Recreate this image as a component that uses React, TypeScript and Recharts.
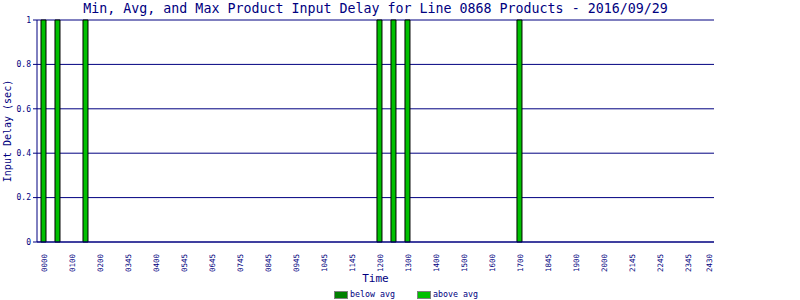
import { Bar, BarChart, CartesianGrid, XAxis, YAxis } from "recharts";

const tickLabels = [
  "0000", "0100", "0200", "0345", "0400", "0545", "0645", "0745", "0845", "0945", "1045", "1145",
  "1200", "1300", "1400", "1500", "1600", "1700", "1845", "1900", "2000", "2145", "2245", "2345", "2430",
];
// slot index of each tick label (half-hour slots, the last label sits at the end of the range)
const tickSlots = [
  0, 2, 4, 6, 8, 10, 12, 14, 16, 18, 20, 22, 24, 26, 28, 30, 32, 34, 36, 38, 40, 42, 44, 46, 47.5,
];

const belowAvg = [
  0, 0, 0, 0, 0, 0, 0, 0, 0, 0, 0, 0, 0, 0, 0, 0, 0, 0, 0, 0, 0, 0, 0, 0,
  0, 0, 0, 0, 0, 0, 0, 0, 0, 0, 0, 0, 0, 0, 0, 0, 0, 0, 0, 0, 0, 0, 0, 0,
];
const aboveAvg = [
  1, 1, 0, 1, 0, 0, 0, 0, 0, 0, 0, 0, 0, 0, 0, 0, 0, 0, 0, 0, 0, 0, 0, 0,
  1, 1, 1, 0, 0, 0, 0, 0, 0, 0, 1, 0, 0, 0, 0, 0, 0, 0, 0, 0, 0, 0, 0, 0,
];

const yTicks = [0, 0.2, 0.4, 0.6, 0.8, 1];

const data = aboveAvg.map((above, i) => ({ slot: i, below: belowAvg[i], above }));

const NAVY = "#000080";
const FONT = "'DejaVu Sans Mono', monospace";

function XTick(props: any) {
  const { x, y, payload } = props;
  const label = tickLabels[tickSlots.indexOf(payload.value)];
  return (
    <text
      x={x}
      y={y}
      transform={`rotate(-90, ${x}, ${y})`}
      textAnchor="end"
      dx={-4}
      dy={3}
      fontSize={7.5}
      fontFamily={FONT}
      fill={NAVY}
    >
      {label}
    </text>
  );
}

const legendItems = [
  { name: "below avg", color: "#008000" },
  { name: "above avg", color: "#00c000" },
];

export default function App() {
  return (
    <div style={{ position: "absolute", left: 0, top: 0, width: 800, height: 300, background: "#fff" }}>
      <div
        style={{
          position: "absolute",
          left: 0,
          top: 1,
          width: 751,
          textAlign: "center",
          fontFamily: FONT,
          fontSize: 13.3,
          color: NAVY,
        }}
      >
        Min, Avg, and Max Product Input Delay for Line 0868 Products - 2016/09/29
      </div>
      <BarChart
        width={800}
        height={300}
        data={data}
        margin={{ top: 20, right: 86, bottom: 18, left: 10 }}
        barGap={0}
      >
        <CartesianGrid vertical={false} stroke={NAVY} strokeWidth={1} />
        <XAxis
          type="number"
          dataKey="slot"
          domain={[-0.5, 47.86]}
          allowDataOverflow
          ticks={tickSlots}
          interval={0}
          tick={<XTick />}
          tickLine={false}
          axisLine={{ stroke: NAVY }}
          height={40}
          label={{ value: "Time", position: "insideBottom", offset: 0, fill: NAVY, fontSize: 11, fontFamily: FONT }}
        />
        <YAxis
          width={27}
          domain={[0, 1]}
          ticks={yTicks}
          tickFormatter={(v: number) => String(v)}
          tick={{ fill: NAVY, fontSize: 8, fontFamily: FONT }}
          tickLine={{ stroke: NAVY }}
          tickSize={4}
          axisLine={{ stroke: NAVY }}
          label={{
            value: "Input Delay (sec)",
            angle: -90,
            position: "insideLeft",
            offset: -3,
            fill: NAVY,
            fontSize: 10,
            fontFamily: FONT,
            style: { textAnchor: "middle" },
          }}
        />
        <YAxis yAxisId="r" orientation="right" width={0} tick={false} tickLine={false} axisLine={{ stroke: NAVY }} />
        <Bar dataKey="below" name="below avg" stackId="a" fill="#008000" stroke="#000" barSize={5} isAnimationActive={false} />
        <Bar dataKey="above" name="above avg" stackId="a" fill="#00c000" stroke="#000" barSize={5} isAnimationActive={false} />
      </BarChart>
      <div
        style={{
          position: "absolute",
          left: 334,
          top: 290,
          display: "flex",
          gap: 22,
          fontFamily: FONT,
          fontSize: 8.3,
          lineHeight: "9px",
          color: NAVY,
        }}
      >
        {legendItems.map((item) => (
          <div key={item.name} style={{ display: "flex", alignItems: "center", gap: 2 }}>
            <span style={{ display: "inline-block", width: 12, height: 6, background: item.color, border: "1px solid #808080" }} />
            <span>{item.name}</span>
          </div>
        ))}
      </div>
    </div>
  );
}
